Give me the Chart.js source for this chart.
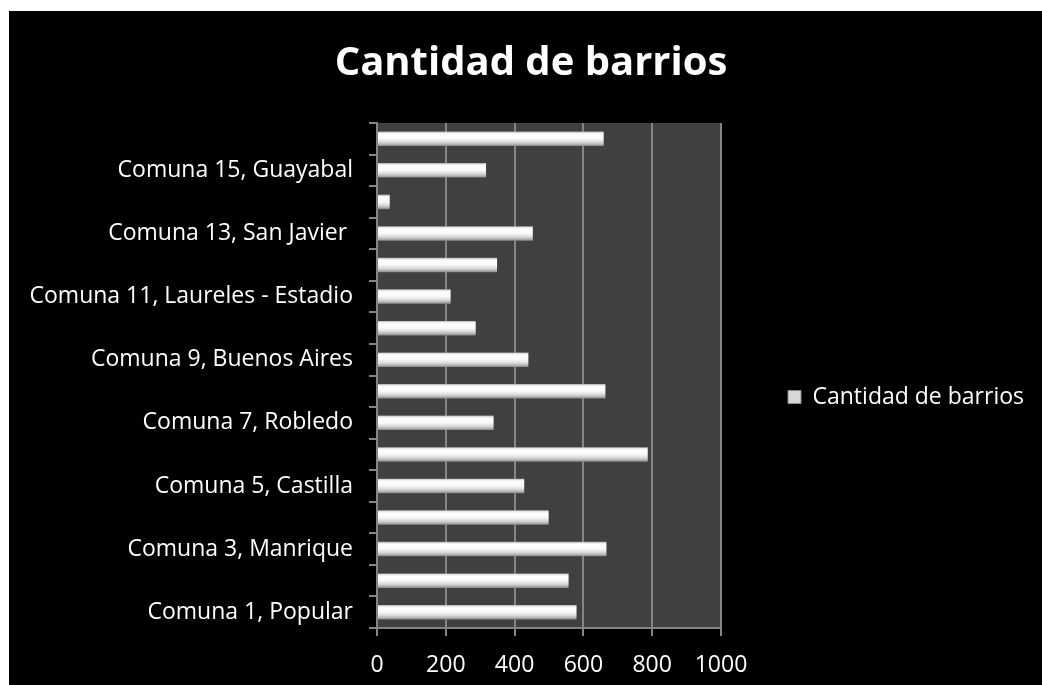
<!DOCTYPE html>
<html>
<head>
<meta charset="utf-8">
<script src="https://cdn.jsdelivr.net/npm/chart.js@4.4.1/dist/chart.umd.min.js"></script>
<style>
  html, body { margin: 0; padding: 0; background: #ffffff; }
  #wrap { position: absolute; left: 9px; top: 11px; width: 1033px; height: 674px; background: #000000; }
  canvas { display: block; }
</style>
</head>
<body>
<div id="wrap"><canvas id="c"></canvas></div>
<script>
const categories = [
  'Comuna 1, Popular',
  'Comuna 2, Santa Cruz',
  'Comuna 3, Manrique',
  'Comuna 4, Aranjuez',
  'Comuna 5, Castilla',
  'Comuna 6, Doce de Octubre',
  'Comuna 7, Robledo',
  'Comuna 8, Villa Hermosa',
  'Comuna 9, Buenos Aires',
  'Comuna 10, La Candelaria',
  'Comuna 11, Laureles - Estadio',
  'Comuna 12, La América',
  'Comuna 13, San Javier ',
  'Comuna 14, El Poblado',
  'Comuna 15, Guayabal',
  'Comuna 16, Belén'
];
const barrios = [580, 557, 667, 499, 428, 787, 339, 664, 440, 287, 214, 349, 453, 37, 317, 659];
const seriesName = 'Cantidad de barrios';
const titleText = 'Cantidad de barrios';
const xTicks = [0, 200, 400, 600, 800, 1000];

const FONT = "'Open Sans', 'DejaVu Sans', sans-serif";
const GRID = '#858585';
const BAR_PCT = 0.46;
const PLOT_RIGHT_GAP = 321;   // space right of the plot area (canvas px)
const LEGEND_SHIFT = 57;      // move legend right, away from the plot
const TITLE_SHIFT = 4;

function barGradient(ctx) {
  const chart = ctx.chart;
  const y = chart.scales && chart.scales.y;
  if (!y || ctx.type !== 'data' || !isFinite(y.height) || y.height <= 0) return '#d4d4d4';
  const c = y.getPixelForValue(ctx.dataIndex);
  const half = (y.height / categories.length) * BAR_PCT / 2;
  const g = chart.ctx.createLinearGradient(0, c - half, 0, c + half);
  g.addColorStop(0, '#a8a8a8');
  g.addColorStop(0.08, '#e6e6e6');
  g.addColorStop(0.2, '#ffffff');
  g.addColorStop(0.5, '#f8f8f8');
  g.addColorStop(0.75, '#d6d6d6');
  g.addColorStop(0.92, '#a6a6a6');
  g.addColorStop(1, '#858585');
  return g;
}

const plotBg = {
  id: 'plotBg',
  afterLayout(chart) {
    const l = chart.legend;
    if (l) { l.left += LEGEND_SHIFT; l.right += LEGEND_SHIFT; }
    const t = chart.titleBlock;
    if (t) { t.left += TITLE_SHIFT; t.right += TITLE_SHIFT; }
  },
  beforeDraw(chart) {
    const a = chart.chartArea;
    const c = chart.ctx;
    c.save();
    c.fillStyle = '#404040';
    c.fillRect(a.left, a.top, a.right - a.left, a.bottom - a.top);
    c.restore();
  }
};

new Chart(document.getElementById('c'), {
  type: 'bar',
  data: {
    labels: categories,
    datasets: [{
      label: seriesName,
      data: barrios,
      backgroundColor: barGradient,
      borderWidth: 0,
      barPercentage: BAR_PCT,
      categoryPercentage: 1
    }]
  },
  options: {
    indexAxis: 'y',
    responsive: true,
    maintainAspectRatio: false,
    devicePixelRatio: 1,
    animation: false,
    layout: { padding: { left: 18, right: 15, top: 10, bottom: 0 } },
    plugins: {
      title: {
        display: true,
        text: titleText,
        color: '#ffffff',
        font: { family: FONT, size: 40, weight: 'bold' },
        padding: { top: 19, bottom: 35 }
      },
      legend: {
        position: 'right',
        title: { display: true, text: ' ', font: { size: 10 }, padding: { top: 38, bottom: 38 } },
        labels: {
          color: '#ffffff',
          font: { family: FONT, size: 23 },
          boxWidth: 13,
          boxHeight: 13,
          padding: 10,
          generateLabels(chart) {
            return [{
              text: seriesName,
              fillStyle: '#d8d8d8',
              strokeStyle: '#8a8a8a',
              lineWidth: 1,
              fontColor: '#ffffff',
              datasetIndex: 0
            }];
          }
        }
      },
      tooltip: { enabled: false }
    },
    scales: {
      x: {
        min: 0,
        max: 1000,
        afterBuildTicks(scale) { scale.ticks = xTicks.map(v => ({ value: v })); },
        afterFit(scale) { scale.paddingRight = PLOT_RIGHT_GAP; scale.height = 57; },
        ticks: {
          color: '#ffffff',
          font: { family: FONT, size: 23, lineHeight: 1 },
          padding: 18,
          callback(value) { return String(value); }
        },
        grid: {
          color: GRID,
          lineWidth: 2,
          drawTicks: true,
          tickLength: 8,
          tickColor: GRID
        },
        border: { display: true, color: GRID, width: 2 }
      },
      y: {
        reverse: true,
        afterFit(scale) { scale.width = 350; },
        ticks: {
          color: '#ffffff',
          font: { family: FONT, size: 23 },
          autoSkip: false,
          padding: 16,
          callback(value, index) { return index % 2 === 0 ? categories[index] : ''; }
        },
        grid: {
          offset: true,
          drawOnChartArea: false,
          drawTicks: true,
          tickLength: 8,
          color: GRID,
          tickColor: GRID,
          lineWidth: 2
        },
        border: { display: true, color: GRID, width: 2 }
      }
    }
  },
  plugins: [plotBg]
});
</script>
</body>
</html>
